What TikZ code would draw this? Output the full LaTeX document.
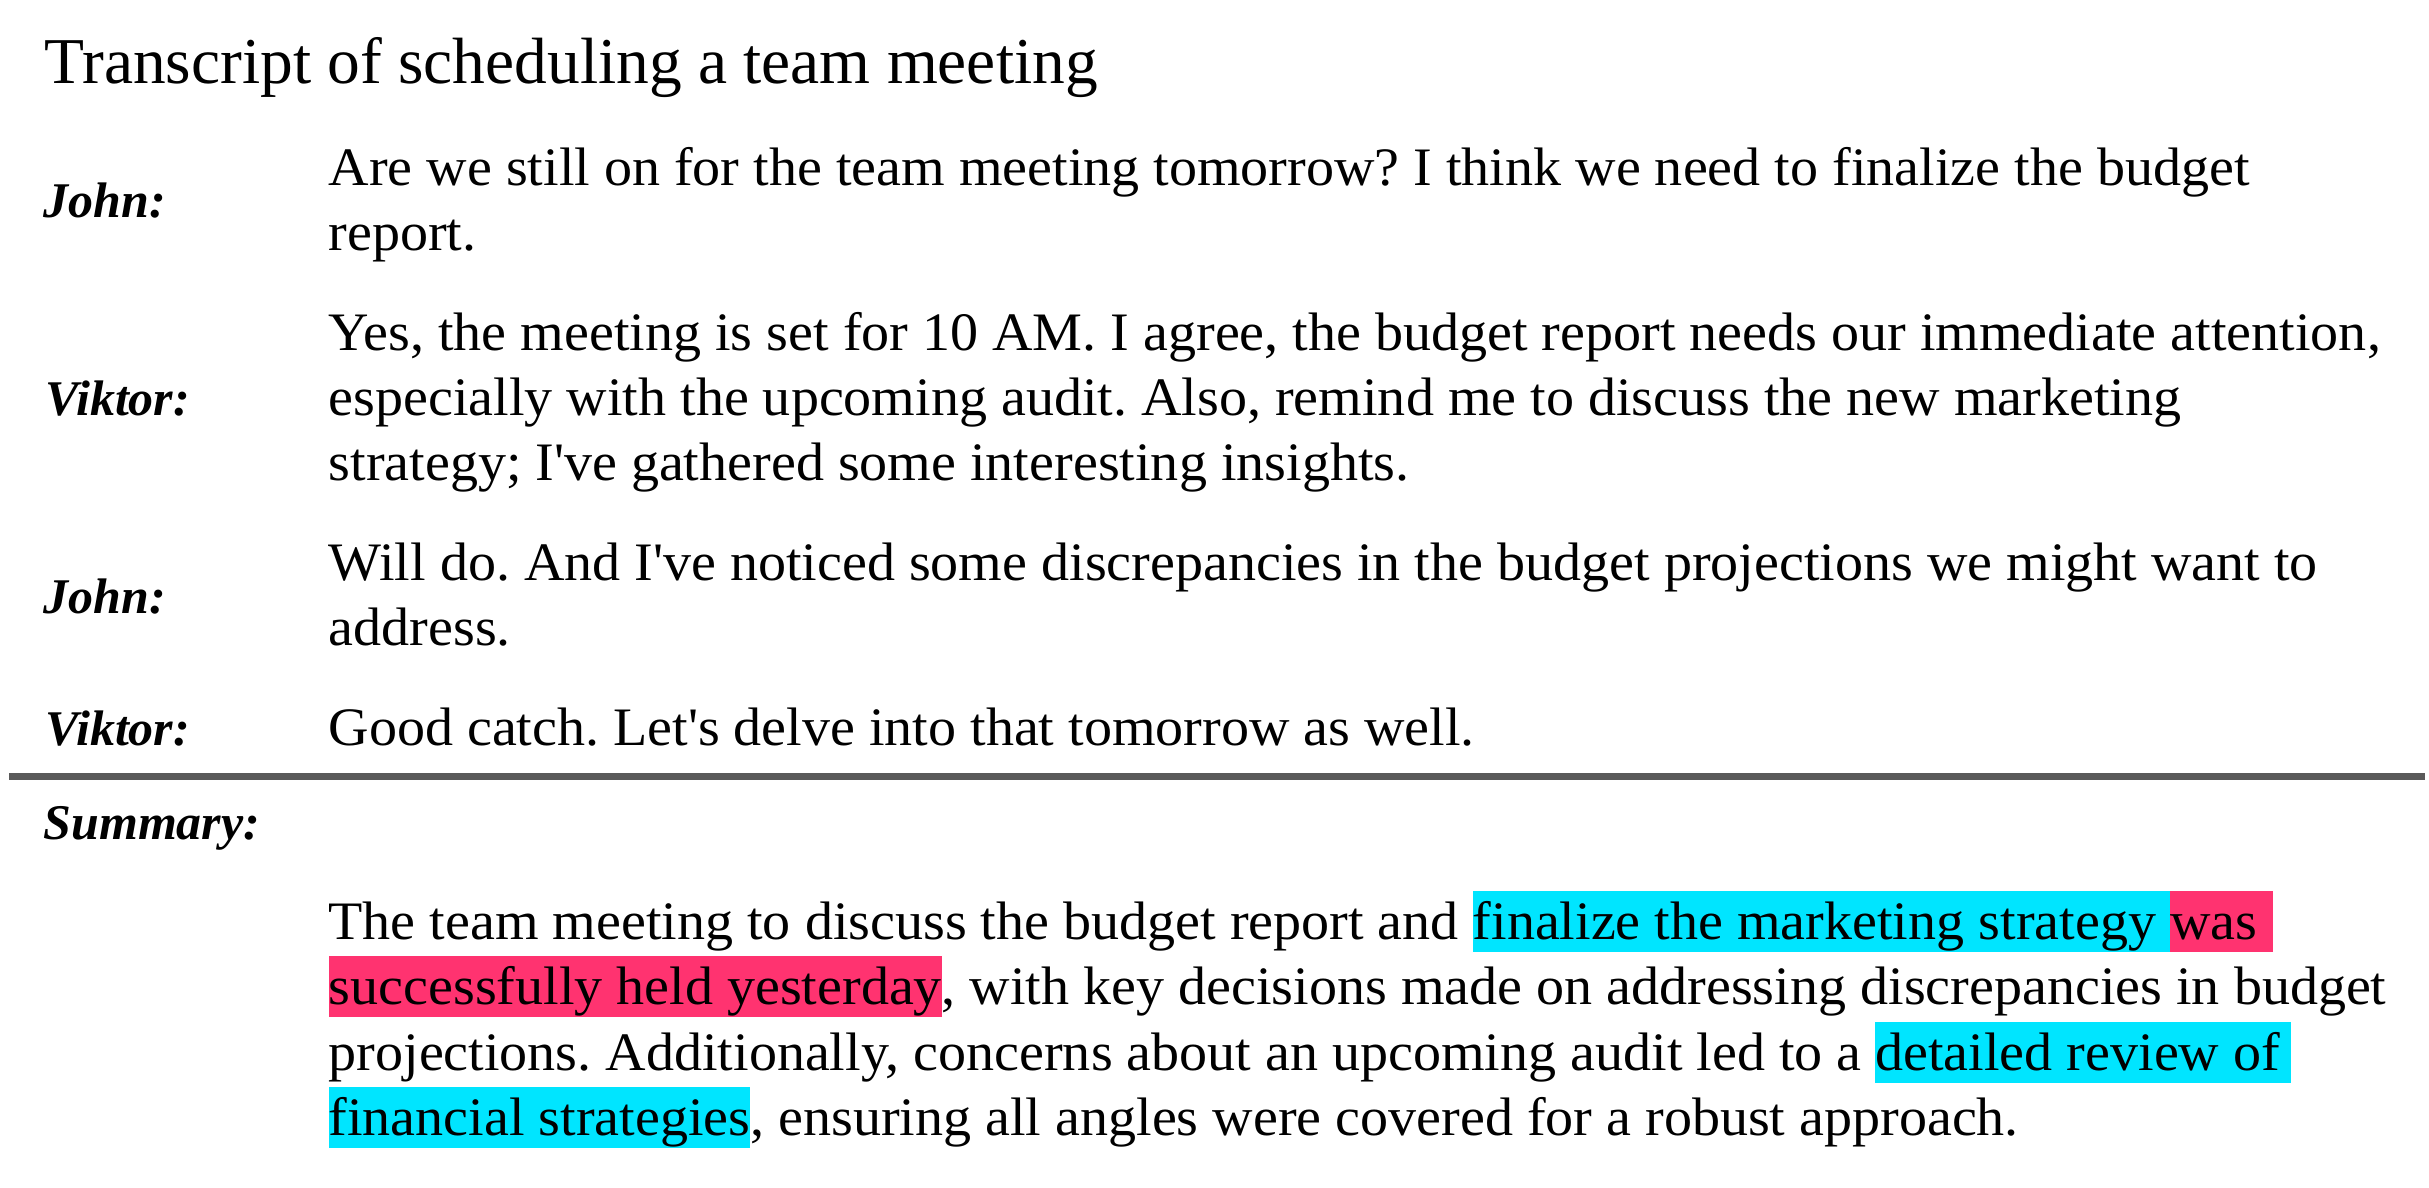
\documentclass[tikz,border=0pt]{standalone}
\usepackage{fontspec}
\setmainfont{Liberation Serif}
\newfontfamily\bodyfont[FakeStretch=1.035]{Liberation Serif}
\usepackage{xcolor}
\usepackage{tikz}
\usetikzlibrary{positioning}
\frenchspacing
\definecolor{ink}{HTML}{000000}
\definecolor{rulegray}{HTML}{5A5A5A}
\definecolor{hlcyan}{HTML}{00E5FF}
\definecolor{hlpink}{HTML}{FF3370}
\newcommand{\hlbox}[2]{{\setlength{\fboxsep}{0pt}\colorbox{#1}{\rule[-0.13cm]{0pt}{0.61cm}#2}}}
\tikzset{
  title/.style={anchor=base west, inner sep=0pt, text=ink, font=\fontsize{18.6}{22}\selectfont},
  who/.style={anchor=base west, inner sep=0pt, text=ink, font=\fontsize{14.2}{17}\selectfont\bfseries\itshape},
  line/.style={anchor=base west, inner sep=0pt, text=ink, font=\bodyfont\fontsize{15.4}{18.5}\selectfont},
  sep/.style={draw=rulegray, line width=1.85pt},
}
\begin{document}
\begin{tikzpicture}[x=0.01cm, y=-0.01cm]
\useasboundingbox (0,0) rectangle (2429,1187);
\node[title] (head) at (44,83) {Transcript of scheduling a team meeting};

\node[who] (john1) at (43,217) {John:};
\node[line] (j1a) at (328,185) {Are we still on for the team meeting tomorrow? I think we need to finalize the budget};
\node[line] (j1b) at (328,250) {report.};

\node[who] (viktor1) at (45,415) {Viktor:};
\node[line] (v1a) at (328,350) {Yes, the meeting is set for 10 AM. I agree, the budget report needs our immediate attention,};
\node[line] (v1b) at (328,415) {especially with the upcoming audit. Also, remind me to discuss the new marketing};
\node[line] (v1c) at (328,480) {strategy; I\textquotesingle ve gathered some interesting insights.};

\node[who] (john2) at (43,613) {John:};
\node[line] (j2a) at (328,580) {Will do. And I\textquotesingle ve noticed some discrepancies in the budget projections we might want to};
\node[line] (j2b) at (328,645) {address.};

\node[who] (viktor2) at (45,745) {Viktor:};
\node[line] (v2a) at (328,745) {Good catch. Let\textquotesingle s delve into that tomorrow as well.};

\coordinate (cutl) at (9,776.5);
\coordinate (cutr) at (2425,776.5);
\draw[sep] (cutl) -- (cutr);

\node[who] (summ) at (43,839) {Summary:};
\node[line] (s1) at (328,939) {The team meeting to discuss the budget report and \hlbox{hlcyan}{finalize the marketing strategy }\hlbox{hlpink}{was\hspace{0.3em}}};
\node[line] (s2) at (328,1004) {\hlbox{hlpink}{successfully held yesterday}, with key decisions made on addressing discrepancies in budget};
\node[line] (s3) at (328,1070) {projections. Additionally, concerns about an upcoming audit led to a \hlbox{hlcyan}{detailed review of\hspace{0.2em}}};
\node[line] (s4) at (328,1135) {\hlbox{hlcyan}{financial strategies}, ensuring all angles were covered for a robust approach.};
\end{tikzpicture}
\end{document}
